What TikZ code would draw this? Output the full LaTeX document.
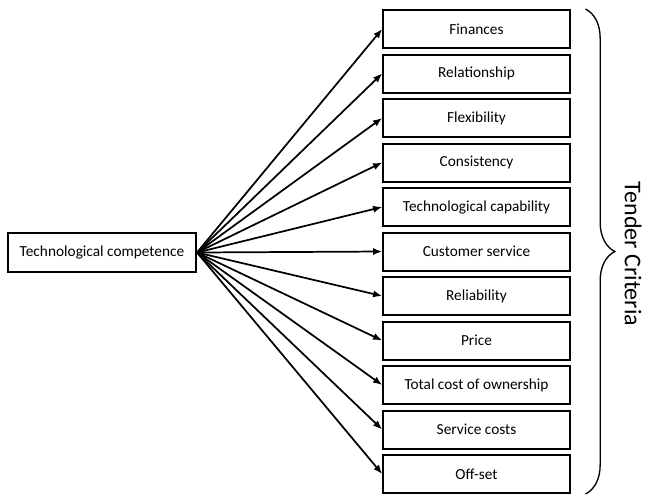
\documentclass[tikz,border=0pt]{standalone}
\usepackage{fontspec}
\setmainfont{Carlito}
\usetikzlibrary{arrows.meta,decorations.pathreplacing}
\tikzset{%
    >={Latex[length=2.4mm,width=1.9mm]},
    box/.style={draw,line width=1.5pt,minimum width=140pt,minimum height=28.5pt,inner sep=0pt,font=\fontsize{11.5}{13}\selectfont}
}

\begin{document}
\begin{tikzpicture}[x=0.75pt,y=-0.75pt]
    \useasboundingbox (0,0) rectangle (649,494);

    \node[box,minimum width=141pt,minimum height=29pt] (competence) at (102,252.5) {Technological competence};

    % tender criteria, top to bottom
    \foreach \name/\txt [count=\i from 0] in {fin/Finances, rel/Relationship, flex/Flexibility,
        cons/Consistency, techcap/Technological capability, custserv/Customer service,
        rely/Reliability, price/Price, tco/Total cost of ownership, servcost/Service costs, offset/Off-set} {
        \node[box] (\name) at (476.5,29+44.5*\i) {\txt};
        \draw[->,line width=1.3pt] (competence.east) -- (\name.west);
    }

    \draw[line width=1pt,decorate,decoration={brace,amplitude=22pt}]
        ([xshift=11pt]fin.north east) -- ([xshift=11pt]offset.south east);
    \node[rotate=-90,font=\fontsize{18}{20}\selectfont] (tender) at (633,254) {Tender Criteria};
\end{tikzpicture}
\end{document}
